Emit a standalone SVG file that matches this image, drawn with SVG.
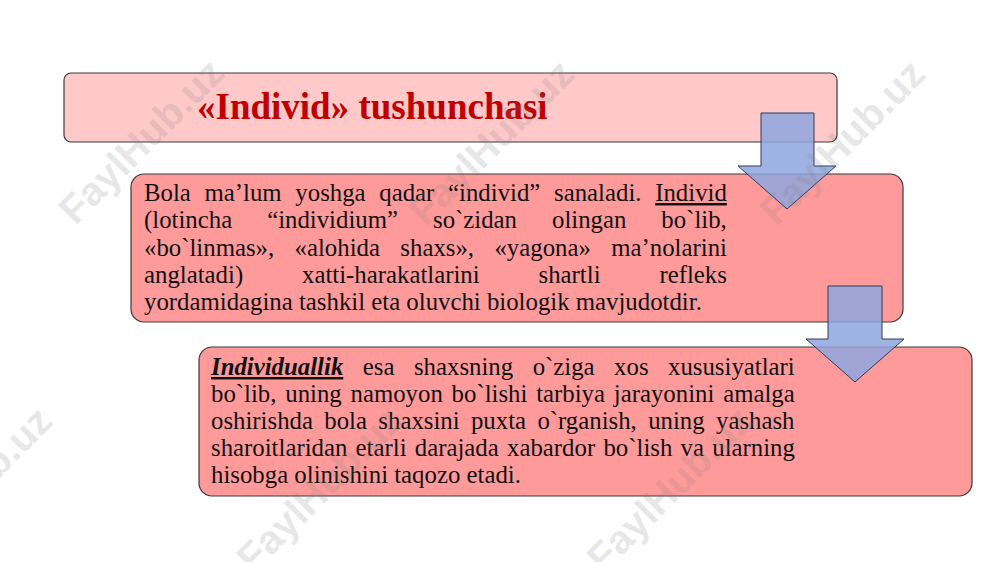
<svg xmlns="http://www.w3.org/2000/svg" width="1000" height="562" viewBox="0 0 1000 562">
<style>
.box{stroke:#3a3a3a;stroke-width:1.2}
.title{fill:#FFC8C9}
.body{fill:#FF9A9B}
.t{font-family:"Liberation Serif","Times New Roman",serif;font-size:24.8px;fill:#111}
.h{font-family:"Liberation Serif","Times New Roman",serif;font-size:37px;font-weight:bold;fill:#C00000}
.bi{font-weight:bold;font-style:italic;text-decoration:underline}
.u{text-decoration:underline}
.arrow{fill:#8EA6DE;fill-opacity:0.85;stroke:#2E3A5C;stroke-width:1}
.wm{font-family:"Liberation Sans",Arial,sans-serif;font-size:40px;font-weight:bold;fill:#808080;fill-opacity:0.2}
</style>
<rect width="1000" height="562" fill="#ffffff"/>
<g id="node-title">
<rect class="box title" x="64" y="73" width="773" height="69" rx="7"/>
<text class="h" x="197" y="119">«Individ» tushunchasi</text>
</g>
<g id="node-individ">
<rect class="box body" x="131" y="174" width="772" height="148" rx="13"/>
<text class="t" x="144" y="201" word-spacing="7.5">Bola ma’lum yoshga qadar “individ” sanaladi. <tspan class="u">Individ</tspan></text>
<text class="t" x="144" y="228.3" word-spacing="28.8">(lotincha “individium” so`zidan olingan bo`lib,</text>
<text class="t" x="144" y="255.5" word-spacing="14.2">«bo`linmas», «alohida shaxs», «yagona» ma’nolarini</text>
<text class="t" x="144" y="282.8" word-spacing="52.7">anglatadi) xatti-harakatlarini shartli refleks</text>
<text class="t" x="144" y="310">yordamidagina tashkil eta oluvchi biologik mavjudotdir.</text>
</g>
<g id="node-individuallik">
<rect class="box body" x="199" y="347" width="773" height="149" rx="13"/>
<text class="t" x="211" y="375" word-spacing="13.3"><tspan class="bi">Individuallik</tspan> esa shaxsning o`ziga xos xususiyatlari</text>
<text class="t" x="211" y="402" word-spacing="2.6">bo`lib, uning namoyon bo`lishi tarbiya jarayonini amalga</text>
<text class="t" x="211" y="429" word-spacing="5.15">oshirishda bola shaxsini puxta o`rganish, uning yashash</text>
<text class="t" x="211" y="456" word-spacing="2.07">sharoitlaridan etarli darajada xabardor bo`lish va ularning</text>
<text class="t" x="211" y="483">hisobga olinishini taqozo etadi.</text>
</g>
<g id="connectors">
<path class="arrow" d="M761,113 L814,113 L814,166 L836,166 L787,209 L738,166 L761,166 Z"/>
<path class="arrow" d="M828,286 L882,286 L882,339 L904,339 L855,382 L806,339 L828,339 Z"/>
</g>
<g id="watermarks">
<text class="wm" x="141" y="155" text-anchor="middle" transform="rotate(-45 141 141)">FaylHub.uz</text>
<text class="wm" x="491" y="156" text-anchor="middle" transform="rotate(-45 491 142)">FaylHub.uz</text>
<text class="wm" x="842" y="156" text-anchor="middle" transform="rotate(-45 842 142)">FaylHub.uz</text>
<text class="wm" x="-31" y="503" text-anchor="middle" transform="rotate(-45 -31 489)">FaylHub.uz</text>
<text class="wm" x="319" y="503" text-anchor="middle" transform="rotate(-45 319 489)">FaylHub.uz</text>
<text class="wm" x="669" y="503" text-anchor="middle" transform="rotate(-45 669 489)">FaylHub.uz</text>
</g>
</svg>
